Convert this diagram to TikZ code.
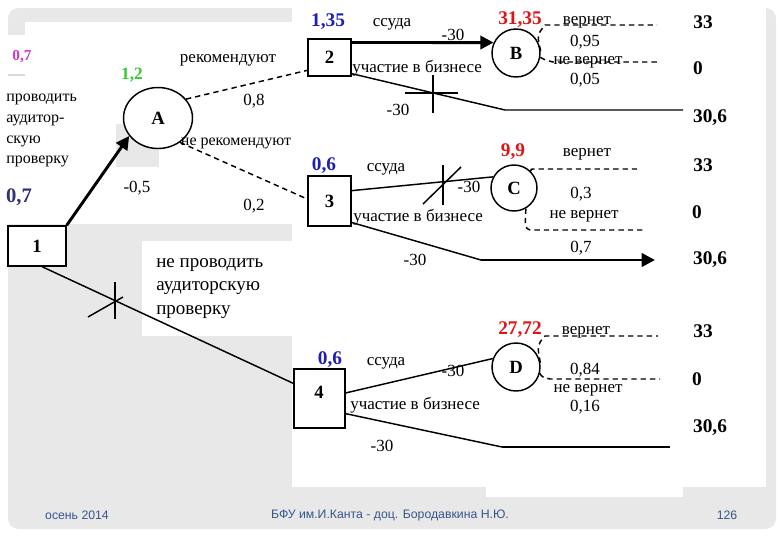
\documentclass[tikz,border=0pt]{standalone}
\usepackage{fontspec}
\setmainfont{Liberation Serif}
\newfontfamily\footfont{Liberation Sans}
\usetikzlibrary{arrows.meta,calc,shapes.geometric}
\definecolor{slidebg}{RGB}{232,232,232}
\definecolor{numblue}{RGB}{30,30,175}
\definecolor{navyblue}{RGB}{50,50,120}
\definecolor{numred}{RGB}{225,20,20}
\definecolor{numgreen}{RGB}{50,205,50}
\definecolor{magent}{RGB}{200,60,200}
\definecolor{footcol}{RGB}{55,85,140}
\begin{document}
\begin{tikzpicture}[x=0.75pt,y=-0.75pt,
  lab/.style={inner sep=0pt, font=\fontsize{12.75}{15}\selectfont},
  labs/.style={inner sep=0pt, font=\fontsize{12}{14}\selectfont},
  val/.style={inner sep=0pt, font=\bfseries\fontsize{14.5}{17}\selectfont},
  box/.style={draw, line width=1.1pt, fill=white, inner sep=0pt, font=\bfseries\fontsize{14}{16}\selectfont},
  circ/.style={draw, circle, line width=1.1pt, fill=white, inner sep=0pt, font=\bfseries\fontsize{14}{16}\selectfont},
  conn/.style={line width=1.1pt},
  thickconn/.style={line width=2.2pt},
  dsh/.style={line width=1.1pt, dash pattern=on 4pt off 3pt},
  foot/.style={inner sep=0pt, text=footcol, font=\footfont\fontsize{9.2}{11}\selectfont},
  tip/.style={-{Triangle[length=10pt,width=10pt]}}
]
\useasboundingbox (0,0) rectangle (780,540);
% background
\fill[white] (0,0) rectangle (780,540);
\fill[slidebg, rounded corners=8pt] (8,8) rectangle (776,529);
\fill[white] (292,0) rectangle (766,487);
\fill[white] (486,0) rectangle (683,497);
\fill[white] (4,22) rectangle (292,224);
\fill[slidebg] (8,22) rectangle (25,35);
\fill[slidebg] (116,124) rectangle (159,167);
\fill[white] (142,241) rectangle (292,336);
\draw[line width=2pt, gray!30] (8,75) -- (25,75);

% nodes
\node[box, minimum width=43.5pt, minimum height=30pt] (n1) at (37,246) {1};
\node[draw, ellipse, line width=1.1pt, fill=white, inner sep=0pt, minimum width=51.75pt, minimum height=45.75pt, font=\bfseries\fontsize{14}{16}\selectfont] (A) at (158,118) {A};
\node[box, minimum width=32.25pt, minimum height=27.75pt] (n2) at (329.5,57.5) {2};
\node[box, minimum width=32.25pt, minimum height=37.5pt] (n3) at (329.5,201) {3};
\node[box, minimum width=38.25pt, minimum height=44.25pt] (n4) at (319.5,398.5) {};
\node[inner sep=0pt, font=\bfseries\fontsize{14}{16}\selectfont] (n4lbl) at (319,392) {4};
\node[circ, minimum size=36pt] (B) at (516,53) {B};
\node[circ, minimum size=34.5pt] (C) at (514,188) {C};
\node[circ, minimum size=36pt] (D) at (516,367) {D};

% end coordinates
\coordinate (k2) at (505,110);
\coordinate (e2) at (683,110);
\coordinate (k3) at (481,260);
\coordinate (e3) at (655,260);
\coordinate (k4) at (502,447);
\coordinate (e4) at (670,447);

% connectors
\draw[thickconn, tip] (n1.north east) -- (A.212);
\draw[dsh] (A.34) -- (n2.210);
\draw[dsh] (A.312) -- (n3.175);
\draw[conn] (n1.-76) -- (n4.150);
\draw[thickconn, tip] (n2.34) -- (B.155);
\draw[conn] (n2.-36) -- (k2) -- (e2);
\draw[conn] (n3.25) -- (C.152);
\draw[conn] (n3.-44) -- (k3);
\draw[thickconn, tip] (k3) -- (e3);
\draw[conn] (n4.12) -- (D.160);
\draw[conn] (n4.-30) -- (k4);
\draw[line width=1.8pt] (k4) -- (e4);

% crosses
\draw[conn] (433,75) -- (433,113);
\draw[line width=2pt] (405,93) -- (458,93);
\draw[conn] (443,165) -- (443,205);
\draw[conn] (423,204) -- (461,167);
\draw[conn] (115,282) -- (115,319);
\draw[conn] (88,317) -- (123,297);

% dashed outcome lines
\draw[dsh] (B.5) .. controls (537,35) .. (545,25) -- (657,25);
\draw[dsh] (B.-10) .. controls (545,60) .. (553,62) -- (658,62);
\draw[dsh] (C.45) .. controls (531,169) .. (533,169) -- (640,169);
\draw[dsh] (C.-60) .. controls (525,228) .. (530,230) -- (645,230);
\draw[dsh] (D.10) .. controls (537,345) .. (545,336) -- (658,336);
\draw[dsh] (D.-15) .. controls (542,377) .. (550,379) -- (660,379);

% left labels
\node[inner sep=0pt, text=magent, font=\bfseries\fontsize{11.5}{13}\selectfont] (p07) at (22,57) {0,7};
\node[inner sep=0pt, text=numgreen, font=\bfseries\fontsize{13}{15}\selectfont] (p12) at (132,75) {1,2};
\node[inner sep=0pt, align=left, anchor=north west, font=\fontsize{12}{15.5}\selectfont] (t1) at (6,94) {проводить\\аудитор-\\скую\\проверку};
\node[inner sep=0pt, text=navyblue, font=\bfseries\fontsize{15.5}{17}\selectfont] (p07b) at (19,197) {0,7};
\node[lab] (m05) at (137,188) {-0,5};
\node[lab] (rec) at (228,60) {рекомендуют};
\node[lab] (p08) at (254,101) {0,8};
\node[labs] (nrec) at (236,143) {не рекомендуют};
\node[lab] (p02) at (254,206) {0,2};
\node[inner sep=0pt, align=left, anchor=north west, font=\fontsize{14.25}{17.6}\selectfont] (t2) at (156,258) {не проводить\\аудиторскую\\проверку};

% box 2 group
\node[val, text=numblue] (v2) at (328,22) {1,35};
\node[lab] (s2) at (392,24) {ссуда};
\node[lab] (m2a) at (453,35) {-30};
\node[lab, anchor=west] (u2) at (352,68) {участие в бизнесе};
\node[lab] (m2b) at (398,110) {-30};
\node[val, text=numred] (vB) at (520,20) {31,35};
\node[lab] (bv) at (587,22) {вернет};
\node[lab] (b95) at (585,42) {0,95};
\node[lab] (bnv) at (588,62) {не вернет};
\node[lab] (b05) at (585,80) {0,05};
\node[val] (r1) at (703,22) {33};
\node[val] (r2) at (698,68) {0};
\node[val] (r3) at (710,118) {30,6};

% box 3 group
\node[val, text=numblue] (v3) at (324,166) {0,6};
\node[lab] (s3) at (386,169) {ссуда};
\node[lab] (m3a) at (469,187) {-30};
\node[lab, anchor=west] (u3) at (353,217) {участие в бизнесе};
\node[lab] (m3b) at (415,260) {-30};
\node[val, text=numred] (vC) at (513,152) {9,9};
\node[lab] (cv) at (587,154) {вернет};
\node[lab] (c3) at (581,194) {0,3};
\node[lab] (cnv) at (584,216) {не вернет};
\node[lab] (c7) at (581,248) {0,7};
\node[val] (r4) at (703,165) {33};
\node[val] (r5) at (697,212) {0};
\node[val] (r6) at (710,260) {30,6};

% box 4 group
\node[val, text=numblue] (v4) at (330,360) {0,6};
\node[lab] (s4) at (386,363) {ссуда};
\node[lab] (m4a) at (453,371) {-30};
\node[lab, anchor=west] (u4) at (350,405) {участие в бизнесе};
\node[lab] (m4b) at (382,446) {-30};
\node[val, text=numred] (vD) at (520,330) {27,72};
\node[lab] (dv) at (586,332) {вернет};
\node[lab] (d84) at (585,370) {0,84};
\node[lab] (dnv) at (588,390) {не вернет};
\node[lab] (d16) at (585,407) {0,16};
\node[val] (r7) at (703,331) {33};
\node[val] (r8) at (697,379) {0};
\node[val] (r9) at (710,428) {30,6};

% footer
\node[foot] (f1) at (77,515) {осень 2014};
\node[foot] (f2) at (390,515) {БФУ им.И.Канта - доц. Бородавкина Н.Ю.};
\node[foot] (f3) at (727,515) {126};
\end{tikzpicture}
\end{document}
